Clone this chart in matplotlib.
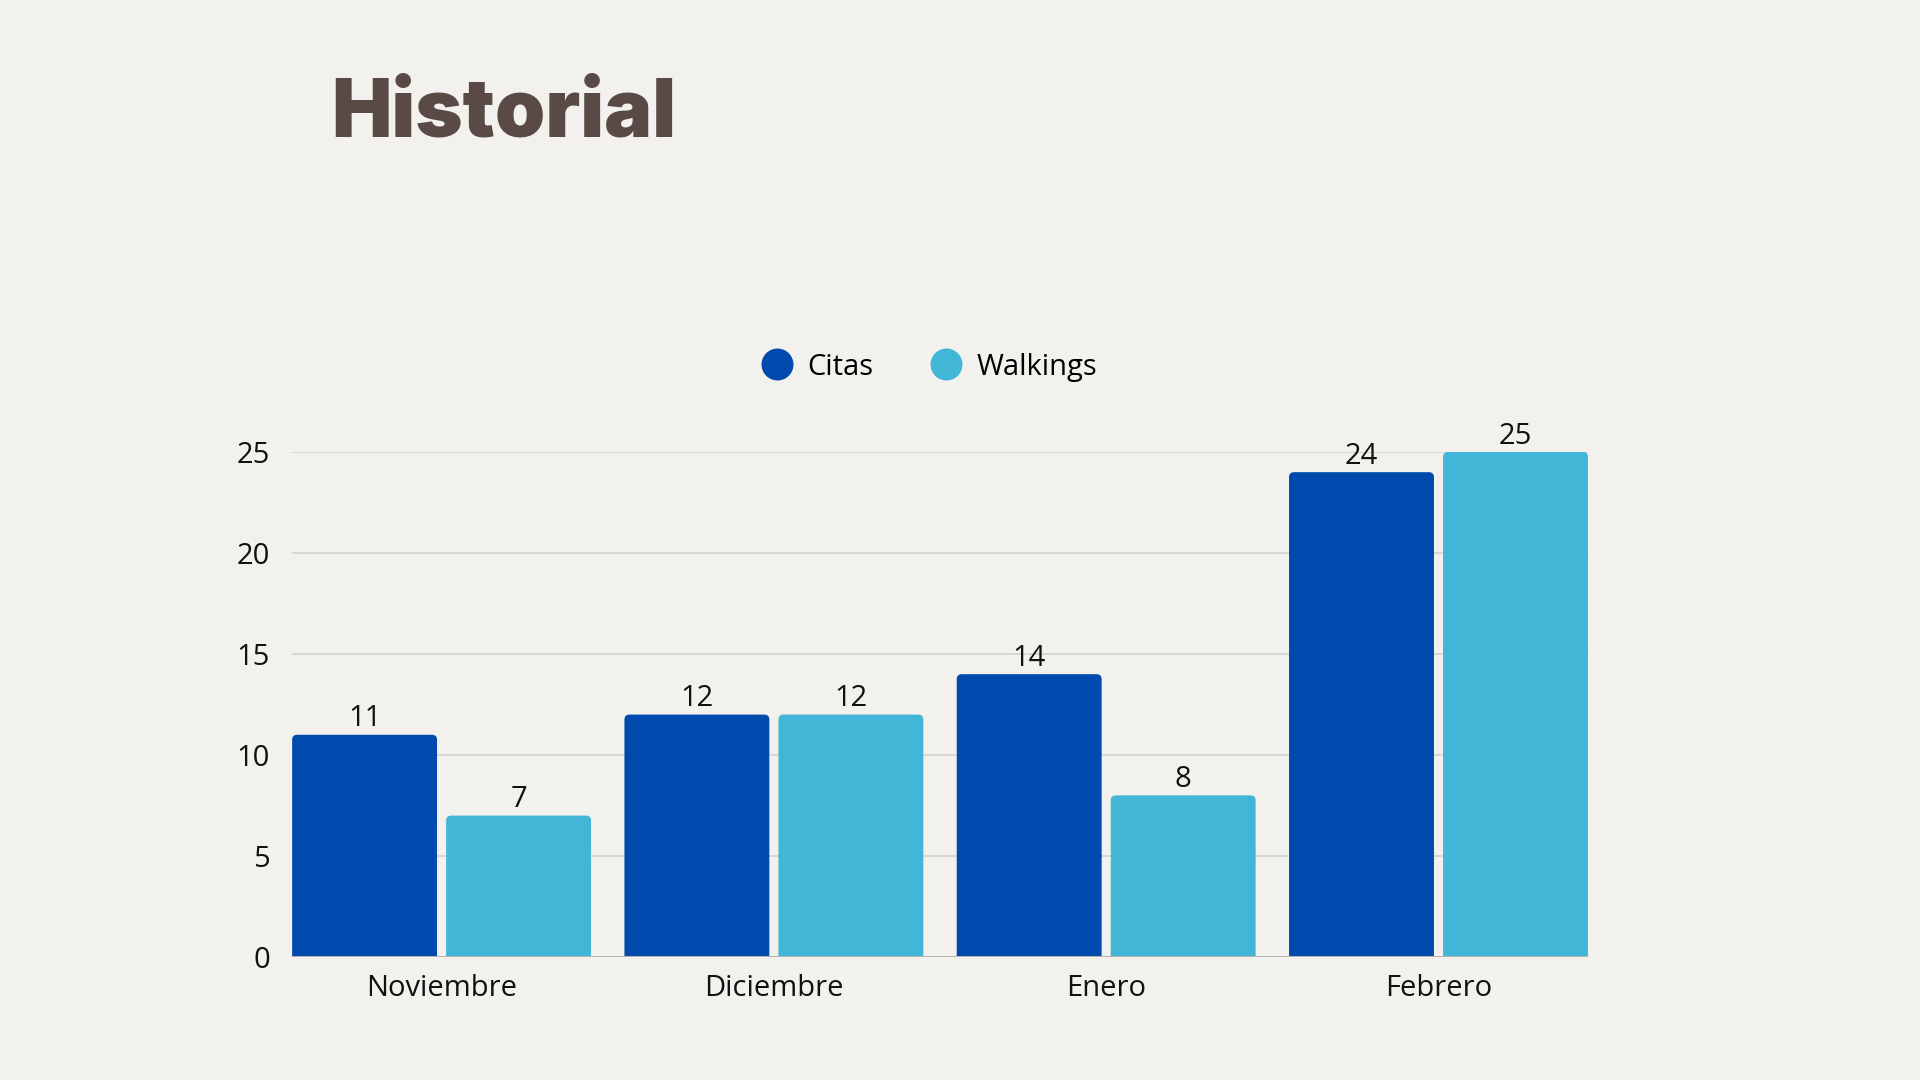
import matplotlib.pyplot as plt
from matplotlib.patches import FancyBboxPatch
from matplotlib.lines import Line2D

months = ["Noviembre", "Diciembre", "Enero", "Febrero"]
citas = [11, 12, 14, 24]
walkings = [7, 12, 8, 25]
series_names = ["Citas", "Walkings"]
yticks = [0, 5, 10, 15, 20, 25]

bg = "#f2f1ed"
col_citas = "#004aad"
col_walk = "#41b6d6"

plt.rcParams['font.family'] = ['Open Sans', 'DejaVu Sans']

fig = plt.figure(figsize=(19.2, 10.8), dpi=100, facecolor=bg)
ax = fig.add_axes([0.1521, 0.1139, 0.675, 0.4676], facecolor=bg)

x = list(range(len(months)))
w = 0.436
off = 0.2317

b1 = ax.bar([i - off for i in x], citas, w, color=col_citas)
b2 = ax.bar([i + off for i in x], walkings, w, color=col_walk)

ax.set_xlim(-0.45, 3.45)
ax.set_ylim(0, 25)

# swap plain bars for ones with slightly rounded tops
# (the box starts below 0 so the bottom rounding gets clipped away)
px_x = 332.3  # pixels per x unit
px_y = 20.2   # pixels per y unit
r = 5 / px_x
for bars in (b1, b2):
    for p in bars:
        p.set_visible(False)
        x0, h, bw = p.get_x(), p.get_height(), p.get_width()
        fb = FancyBboxPatch((x0, -1), bw, h + 1,
                            boxstyle=f"round,pad=0,rounding_size={r}",
                            mutation_aspect=px_x / px_y,
                            fc=p.get_facecolor(), ec="none", zorder=2)
        ax.add_patch(fb)
        ax.annotate(f"{int(h)}", (x0 + bw / 2, h), xytext=(0, 6), textcoords="offset points",
                    ha="center", va="baseline", fontsize=21, color="#111111")

for t in yticks[1:]:
    ax.axhline(t, color="#d3d2cf", lw=1.2, zorder=0)
ax.axhline(0, color="#b5b4b1", lw=1.4, zorder=3)

for s in ax.spines.values():
    s.set_visible(False)

ax.set_yticks(yticks)
ax.set_xticks(x)
ax.set_xticklabels(months)
ax.tick_params(axis="both", length=0, labelsize=21, colors="#111111")
ax.tick_params(axis="y", pad=16)
ax.tick_params(axis="x", pad=12)

handles = [Line2D([], [], marker="o", ls="", markersize=22, color=col_citas),
           Line2D([], [], marker="o", ls="", markersize=22, color=col_walk)]
fig.legend(handles, series_names, loc="center", bbox_to_anchor=(0.4835, 0.660), ncol=2,
           frameon=False, fontsize=21, handletextpad=0.45, columnspacing=1.9, handlelength=1.2)

fig.text(0.1725, 0.874, "Historial", fontsize=58, fontweight="black", family="Inter",
         color="#594a45", ha="left", va="baseline")

fig.savefig("out.png", dpi=100, facecolor=bg)
